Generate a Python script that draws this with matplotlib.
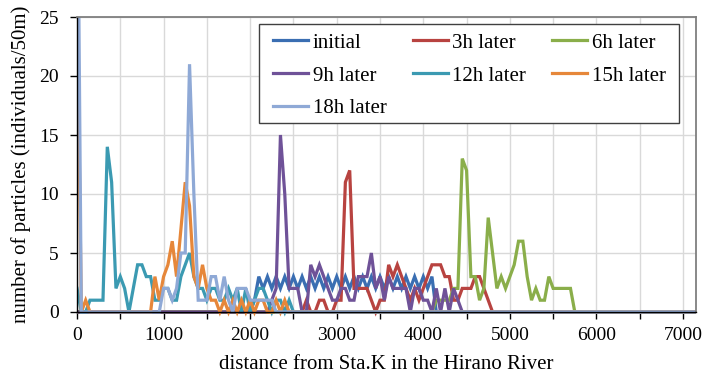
import numpy as np
import matplotlib
matplotlib.use("Agg")
import matplotlib.pyplot as plt
from matplotlib.patches import Rectangle

# distance bins (m), one every 50 m
dist = np.arange(0, 7151, 50)

# each series: first distance of the read segment and the counts from there on (0 elsewhere)
initial_start = 2000
initial_vals = [0, 1, 3, 2, 3, 2, 3, 2, 3, 2, 3, 2, 3, 2, 3, 2, 3, 2, 3, 2, 3, 2,
                3, 2, 3, 2, 3, 2, 3, 2, 3, 2, 3, 2, 3, 2, 3, 2, 3, 2, 3, 2, 3, 0]

h3_start = 2500
h3_vals = [0, 0, 0, 1, 0, 0, 1, 1, 0, 0, 1, 1, 11, 12, 2, 2, 2, 2, 1, 0, 1, 1, 4, 3,
           4, 3, 2, 1, 2, 1, 2, 3, 4, 4, 4, 3, 3, 1, 1, 2, 2, 2, 3, 3, 2, 1, 0]

h6_start = 4100
h6_vals = [0, 1, 1, 1, 1, 2, 2, 13, 12, 3, 3, 1, 2, 8, 5, 2, 3, 2, 3, 4, 6, 6, 3, 1,
           2, 1, 1, 3, 2, 2, 2, 2, 2, 0]

h9_start = 2200
h9_vals = [0, 1, 2, 15, 10, 2, 2, 2, 0, 0, 4, 3, 4, 3, 2, 1, 1, 2, 2, 1, 1, 3, 3, 3,
           5, 2, 3, 1, 3, 2, 2, 2, 2, 0, 2, 2, 1, 1, 0, 2, 0, 2, 0, 2, 1, 0]

h12_start = 0
h12_vals = [2, 0, 0, 1, 1, 1, 1, 14, 11, 2, 3, 2, 0, 2, 4, 4, 3, 3, 1, 1, 2, 2, 1, 1,
            3, 4, 5, 3, 2, 2, 1, 2, 2, 1, 1, 2, 1, 2, 0, 2, 0, 1, 2, 2, 1, 0, 1, 1, 0,
            1, 0]

h15_start = 0
h15_vals = [28, 0, 1, 0, 0, 0, 0, 0, 0, 0, 0, 0, 0, 0, 0, 0, 0, 0, 3, 1, 3, 4, 6, 3,
            7, 11, 9, 3, 2, 4, 2, 1, 1, 0, 1, 0, 1, 0, 1, 0, 1, 0, 1, 1, 0, 0, 1, 0,
            1, 0]

h18_start = 0
h18_vals = [45, 0, 0, 0, 0, 0, 0, 0, 0, 0, 0, 0, 0, 0, 0, 0, 0, 0, 0, 0, 2, 2, 1, 2,
            5, 5, 21, 10, 1, 1, 1, 3, 3, 1, 3, 1, 0, 2, 2, 2, 1, 1, 1, 1, 1, 1, 0]

labels = ["initial", "3h later", "6h later", "9h later", "12h later", "15h later", "18h later"]
colors = ["#3A6EB2", "#B84340", "#8AAE4A", "#6F5298", "#3B9AB2", "#E6873A", "#8FA9D6"]
segments = [(initial_start, initial_vals), (h3_start, h3_vals), (h6_start, h6_vals),
            (h9_start, h9_vals), (h12_start, h12_vals), (h15_start, h15_vals),
            (h18_start, h18_vals)]


def full_series(start, vals):
    y = np.zeros(len(dist))
    i = start // 50
    y[i:i + len(vals)] = vals
    return y


plt.rcParams["font.family"] = ["Liberation Serif", "DejaVu Serif"]

fig = plt.figure(figsize=(7.06, 3.77), dpi=100)
ax = fig.add_axes([77 / 706, 65 / 377, 619 / 706, 295 / 377])

clip = Rectangle((0, -0.02), 1, 1.02, transform=ax.transAxes, facecolor="none", edgecolor="none")
ax.add_patch(clip)
handles = []
for (start, vals), lab, col in zip(segments, labels, colors):
    line, = ax.plot(dist, full_series(start, vals), color=col, lw=2.3, label=lab,
                    solid_joinstyle="miter")
    line.set_clip_path(clip)
    handles.append(line)

ax.set_xlim(0, 7150)
ax.set_ylim(0, 25)
ax.set_xticks(range(0, 7001, 1000))
ax.set_xticks(range(500, 7001, 1000), minor=True)
ax.set_yticks(range(0, 26, 5))
ax.grid(True, which="both", color="#D9D9D9", lw=1)
ax.set_axisbelow(True)
ax.tick_params(axis="both", which="both", direction="out", length=5, width=1,
               labelsize=14, colors="black")
ax.tick_params(axis="x", pad=6)
ax.tick_params(axis="y", pad=8)
for s in ["top", "right"]:
    ax.spines[s].set_color("#7F7F7F")
    ax.spines[s].set_linewidth(1.3)
for s in ["left", "bottom"]:
    ax.spines[s].set_color("black")
    ax.spines[s].set_linewidth(1)

ax.set_xlabel("distance from Sta.K in the Hirano River", fontsize=15, labelpad=8)
ax.set_ylabel("number of particles (individuals/50m)", fontsize=15, labelpad=6)

# legend box drawn by hand so its padding can match the original
ax.add_patch(Rectangle((259 / 706, 1 - 123 / 377), 420 / 706, 99 / 377,
                       transform=fig.transFigure, facecolor="white",
                       edgecolor="#404040", lw=1, zorder=4, clip_on=False))
# legend is filled column by column, so reorder to read row by row
order = [0, 3, 6, 1, 4, 2, 5]
leg = ax.legend([handles[i] for i in order], [labels[i] for i in order],
                ncol=3, loc="upper left", bbox_to_anchor=(273 / 706, 1 - 33 / 377),
                bbox_transform=fig.transFigure, fontsize=15, handlelength=1.7,
                handletextpad=0.2, columnspacing=1.25, labelspacing=0.64, borderpad=0,
                frameon=False, borderaxespad=0)
leg.set_zorder(5)

fig.savefig("out.png", dpi=100)
